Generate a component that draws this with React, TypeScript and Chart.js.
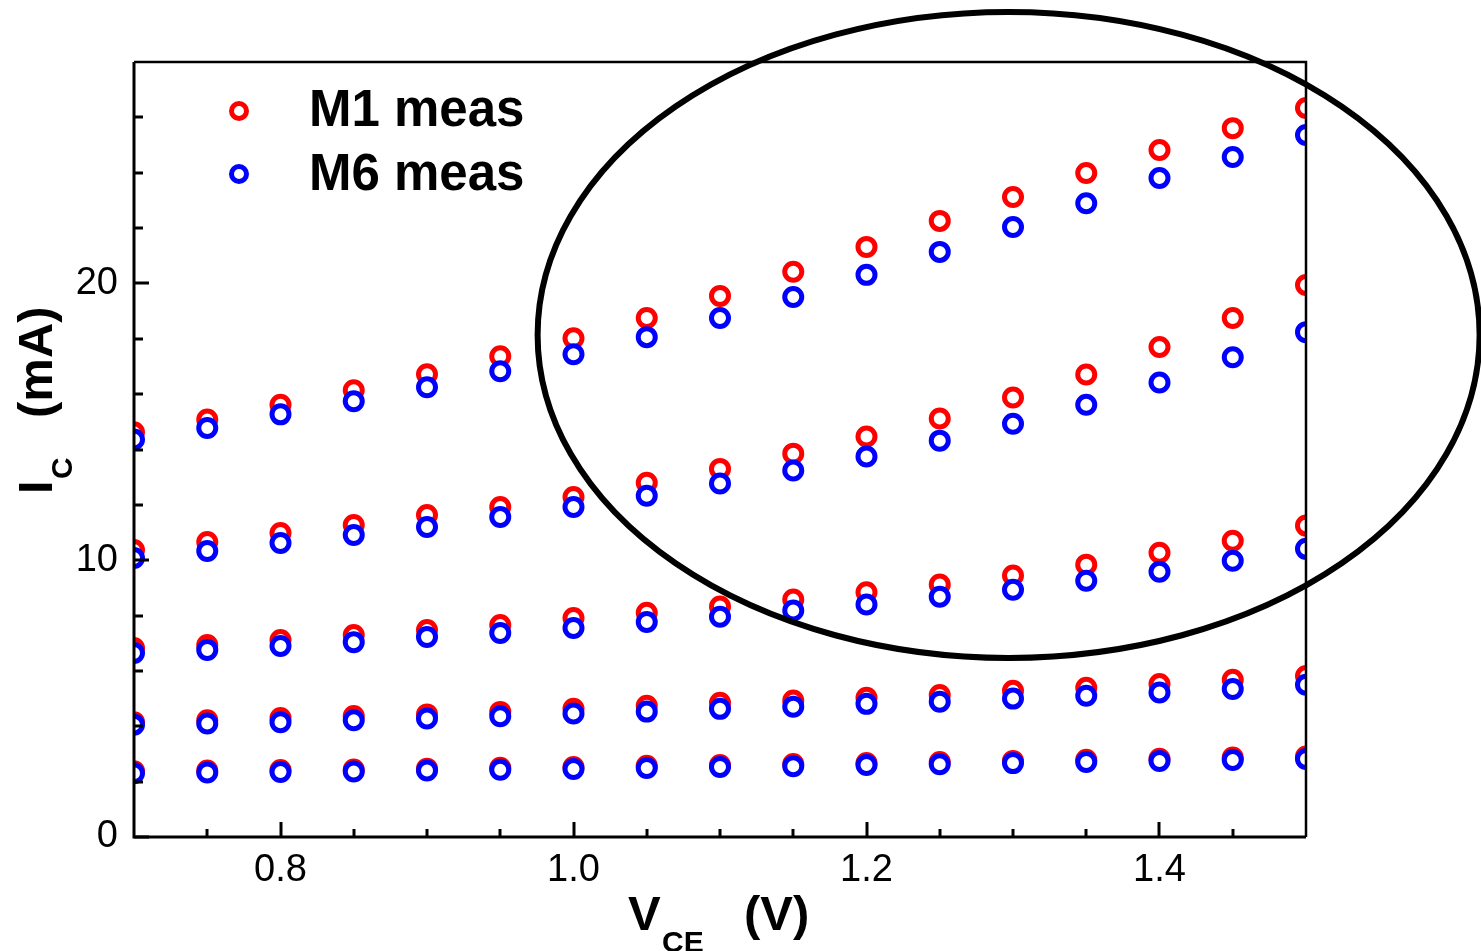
import React, { useEffect, useRef } from 'react';
import { Chart, registerables } from 'chart.js';

Chart.register(...registerables);

// ---------------- data ----------------
const vce = [0.7, 0.75, 0.8, 0.85, 0.9, 0.95, 1.0, 1.05, 1.1, 1.15, 1.2, 1.25, 1.3, 1.35, 1.4, 1.45, 1.5];

// M1 measured collector current (mA), five base-drive curves (lowest first)
const m1Curve1 = [2.38, 2.4, 2.42, 2.44, 2.47, 2.5, 2.53, 2.57, 2.6, 2.64, 2.67, 2.71, 2.75, 2.79, 2.83, 2.87, 2.91];
const m1Curve2 = [4.15, 4.22, 4.3, 4.37, 4.43, 4.52, 4.63, 4.74, 4.85, 4.93, 5.03, 5.13, 5.28, 5.39, 5.53, 5.68, 5.82];
const m1Curve3 = [6.83, 6.94, 7.12, 7.3, 7.48, 7.66, 7.91, 8.1, 8.33, 8.58, 8.84, 9.12, 9.45, 9.84, 10.27, 10.7, 11.25];
const m1Curve4 = [10.37, 10.66, 10.98, 11.27, 11.63, 11.92, 12.28, 12.8, 13.3, 13.85, 14.47, 15.12, 15.88, 16.71, 17.7, 18.75, 19.94];
const m1Curve5 = [14.62, 15.08, 15.62, 16.14, 16.72, 17.37, 18.02, 18.75, 19.55, 20.42, 21.32, 22.26, 23.12, 23.99, 24.82, 25.61, 26.34];

// M6 measured collector current (mA)
const m6Curve1 = [2.3, 2.33, 2.35, 2.37, 2.4, 2.43, 2.46, 2.49, 2.53, 2.56, 2.6, 2.63, 2.67, 2.71, 2.75, 2.78, 2.82];
const m6Curve2 = [4.06, 4.1, 4.15, 4.22, 4.28, 4.36, 4.46, 4.53, 4.63, 4.71, 4.81, 4.89, 5.0, 5.1, 5.22, 5.35, 5.5];
const m6Curve3 = [6.65, 6.76, 6.9, 7.04, 7.23, 7.37, 7.55, 7.77, 7.96, 8.18, 8.4, 8.68, 8.93, 9.26, 9.58, 9.98, 10.41];
const m6Curve4 = [10.08, 10.33, 10.62, 10.91, 11.2, 11.56, 11.92, 12.33, 12.77, 13.24, 13.75, 14.32, 14.93, 15.62, 16.42, 17.33, 18.24];
const m6Curve5 = [14.36, 14.78, 15.27, 15.74, 16.25, 16.83, 17.44, 18.06, 18.75, 19.51, 20.31, 21.14, 22.04, 22.9, 23.81, 24.57, 25.36];

const m1Curves = [m1Curve1, m1Curve2, m1Curve3, m1Curve4, m1Curve5];
const m6Curves = [m6Curve1, m6Curve2, m6Curve3, m6Curve4, m6Curve5];

const seriesLabels = ['M1 meas', 'M6 meas'];
const seriesColors = ['#ff0000', '#0000ff'];

// axes
const xMin = 0.7;
const xMax = 1.5;
const yMin = 0;
const yMax = 28;
const xMajorTicks = [0.8, 1.0, 1.2, 1.4];
const xMinorTicks = [0.75, 0.85, 0.9, 0.95, 1.05, 1.1, 1.15, 1.25, 1.3, 1.35, 1.45];
const yMajorTicks = [0, 10, 20];
const yMinorTicks = [2, 4, 6, 8, 12, 14, 16, 18, 22, 24, 26];

// highlight ellipse (data coordinates): centre and radii
const ellipseCenter = [1.297, 18.14];
const ellipseRadii = [0.3215, 11.67];

const toPoints = (curves: number[][]) =>
  curves.flatMap((c) => c.map((y, i) => ({ x: vce[i], y })));

const FONT = "'Liberation Sans', Arial, sans-serif";

const decorPlugin = {
  id: 'decor',
  afterDatasetsDraw(chart: any) {
    const { ctx, chartArea, scales } = chart;
    const xs = scales.x;
    const ys = scales.y;
    ctx.save();
    ctx.strokeStyle = '#000';
    ctx.lineCap = 'butt';

    // frame
    ctx.lineWidth = 3;
    ctx.beginPath();
    ctx.moveTo(chartArea.left, chartArea.top);
    ctx.lineTo(chartArea.left, chartArea.bottom);
    ctx.lineTo(chartArea.right, chartArea.bottom);
    ctx.stroke();
    ctx.lineWidth = 2.5;
    ctx.beginPath();
    ctx.moveTo(chartArea.left, chartArea.top);
    ctx.lineTo(chartArea.right, chartArea.top);
    ctx.lineTo(chartArea.right, chartArea.bottom);
    ctx.stroke();

    // inward ticks
    ctx.lineWidth = 3;
    ctx.beginPath();
    xMajorTicks.forEach((v) => {
      const px = Math.round(xs.getPixelForValue(v));
      ctx.moveTo(px, chartArea.bottom);
      ctx.lineTo(px, chartArea.bottom - 15);
    });
    xMinorTicks.forEach((v) => {
      const px = Math.round(xs.getPixelForValue(v));
      ctx.moveTo(px, chartArea.bottom);
      ctx.lineTo(px, chartArea.bottom - 8);
    });
    yMajorTicks.forEach((v) => {
      const py = Math.round(ys.getPixelForValue(v));
      ctx.moveTo(chartArea.left, py);
      ctx.lineTo(chartArea.left + 15, py);
    });
    yMinorTicks.forEach((v) => {
      const py = Math.round(ys.getPixelForValue(v));
      ctx.moveTo(chartArea.left, py);
      ctx.lineTo(chartArea.left + 9, py);
    });
    ctx.stroke();

    // legend
    chart.data.datasets.forEach((ds: any, i: number) => {
      const cy = 111 + i * 63;
      ctx.beginPath();
      ctx.arc(239, cy, 7.5, 0, Math.PI * 2);
      ctx.fillStyle = '#fff';
      ctx.fill();
      ctx.lineWidth = 5;
      ctx.strokeStyle = ds.borderColor;
      ctx.stroke();
      ctx.fillStyle = '#000';
      ctx.font = `bold 51px ${FONT}`;
      ctx.textAlign = 'left';
      ctx.textBaseline = 'alphabetic';
      ctx.fillText(ds.label, 309, 126 + i * 64);
    });

    // x-axis title: V_CE (V)
    ctx.fillStyle = '#000';
    ctx.textAlign = 'left';
    ctx.textBaseline = 'alphabetic';
    ctx.font = `bold 49px ${FONT}`;
    ctx.fillText('V', 628, 930);
    ctx.fillText('(V)', 744, 930);
    ctx.font = `bold 30px ${FONT}`;
    ctx.fillText('CE', 662, 952);

    // y-axis title: I_C (mA)
    const rot = (text: string, x: number, y: number, font: string) => {
      ctx.save();
      ctx.translate(x, y);
      ctx.rotate(-Math.PI / 2);
      ctx.font = font;
      ctx.fillText(text, 0, 0);
      ctx.restore();
    };
    rot('I', 52, 494, `bold 49px ${FONT}`);
    rot('C', 72, 479, `bold 30px ${FONT}`);
    rot('(mA)', 52, 418, `bold 49px ${FONT}`);

    // highlight ellipse
    const cx = xs.getPixelForValue(ellipseCenter[0]);
    const cy = ys.getPixelForValue(ellipseCenter[1]);
    const rx = Math.abs(xs.getPixelForValue(ellipseCenter[0] + ellipseRadii[0]) - cx);
    const ry = Math.abs(ys.getPixelForValue(ellipseCenter[1] + ellipseRadii[1]) - cy);
    ctx.beginPath();
    ctx.ellipse(cx, cy, rx, ry, 0, 0, Math.PI * 2);
    ctx.lineWidth = 6;
    ctx.strokeStyle = '#000';
    ctx.stroke();

    ctx.restore();
  },
};

export default function App() {
  const canvasRef = useRef<HTMLCanvasElement | null>(null);

  useEffect(() => {
    if (!canvasRef.current) return;
    const chart = new Chart(canvasRef.current, {
      type: 'scatter',
      data: {
        datasets: [
          {
            label: seriesLabels[0],
            data: toPoints(m1Curves),
            borderColor: seriesColors[0],
            backgroundColor: '#ffffff',
            pointRadius: 8.5,
            pointBorderWidth: 5,
            pointHoverRadius: 8.5,
            showLine: false,
            clip: 0,
            order: 1,
          },
          {
            label: seriesLabels[1],
            data: toPoints(m6Curves),
            borderColor: seriesColors[1],
            backgroundColor: '#ffffff',
            pointRadius: 8.5,
            pointBorderWidth: 5,
            pointHoverRadius: 8.5,
            showLine: false,
            clip: 0,
            order: 0,
          },
        ],
      },
      options: {
        responsive: false,
        animation: false,
        events: [],
        layout: { padding: { top: 62, right: 175, left: 0, bottom: 0 } },
        plugins: {
          legend: { display: false },
          tooltip: { enabled: false },
          title: { display: false },
        },
        scales: {
          x: {
            type: 'linear',
            min: xMin,
            max: xMax,
            grid: { display: false, drawTicks: false },
            border: { display: false },
            afterBuildTicks: (axis: any) => {
              axis.ticks = xMajorTicks.map((v) => ({ value: v }));
            },
            afterFit: (axis: any) => {
              axis.height = 114;
            },
            ticks: {
              autoSkip: false,
              maxRotation: 0,
              padding: 11,
              color: '#000',
              font: { family: FONT, size: 38 },
              callback: (v: any) => Number(v).toFixed(1),
            },
          },
          y: {
            type: 'linear',
            min: yMin,
            max: yMax,
            grid: { display: false, drawTicks: false },
            border: { display: false },
            afterBuildTicks: (axis: any) => {
              axis.ticks = yMajorTicks.map((v) => ({ value: v }));
            },
            afterFit: (axis: any) => {
              axis.width = 134;
            },
            ticks: {
              autoSkip: false,
              padding: 16,
              color: '#000',
              font: { family: FONT, size: 38 },
              callback: (v: any) => String(Number(v)),
            },
          },
        },
      },
      plugins: [decorPlugin],
    });
    return () => chart.destroy();
  }, []);

  return (
    <div
      style={{
        position: 'fixed',
        left: 0,
        top: 0,
        width: 1481,
        height: 951,
        background: '#fff',
        overflow: 'hidden',
      }}
    >
      <canvas ref={canvasRef} width={1481} height={951} style={{ display: 'block' }} />
    </div>
  );
}
